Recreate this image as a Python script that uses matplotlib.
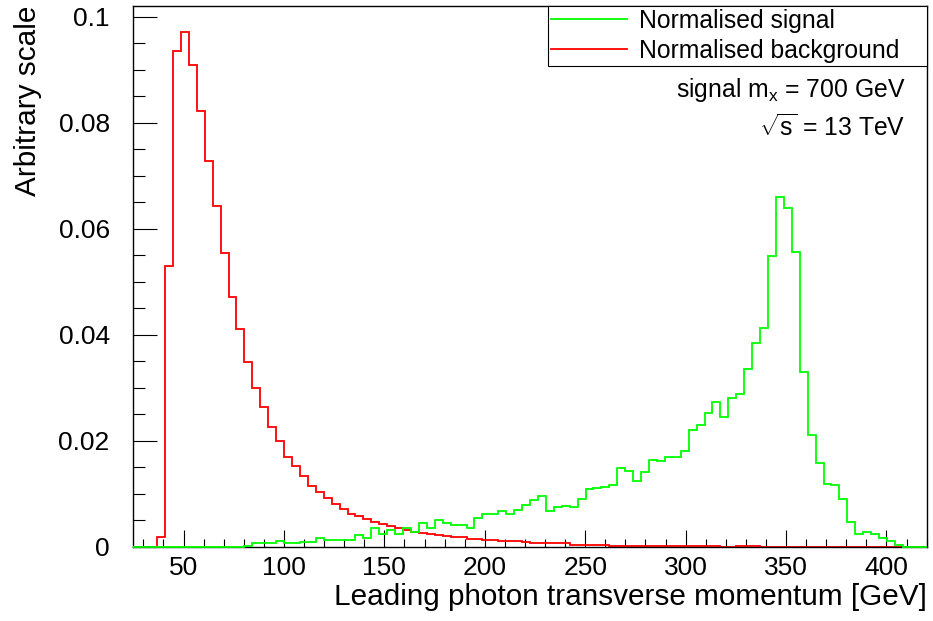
import numpy as np
import matplotlib
matplotlib.use('Agg')
import matplotlib.pyplot as plt
from matplotlib.ticker import MultipleLocator, FuncFormatter
from matplotlib.lines import Line2D

plt.rcParams['font.family'] = ['Liberation Sans', 'DejaVu Sans']
plt.rcParams['mathtext.fontset'] = 'custom'
plt.rcParams['mathtext.rm'] = 'Liberation Sans'
plt.rcParams['mathtext.it'] = 'Liberation Sans:italic'

# Histogram binning: 100 bins from 25 to 420 GeV
x_lo = 25
x_hi = 420
n_bins = 100

# Normalised signal (m_x = 700 GeV), one value per bin
signal = [
    0, 0, 0, 0, 0, 0, 0, 0, 0, 0,
    0, 0, 0, 0, 0.0002, 0.0006, 0.0006, 0.0006, 0.0011, 0.0006,
    0.0006, 0.0008, 0.0008, 0.0016, 0.0013, 0.0013, 0.0013, 0.0013, 0.0022, 0.0016,
    0.0035, 0.0024, 0.0031, 0.0024, 0.0036, 0.0028, 0.0045, 0.0036, 0.0050, 0.0045,
    0.0040, 0.0040, 0.0036, 0.0055, 0.0061, 0.0061, 0.0068, 0.0061, 0.0070, 0.0079,
    0.0089, 0.0095, 0.0067, 0.0074, 0.0077, 0.0074, 0.0090, 0.0108, 0.0110, 0.0113,
    0.0116, 0.0149, 0.0143, 0.0124, 0.0140, 0.0164, 0.0161, 0.0170, 0.0170, 0.0180,
    0.0220, 0.0230, 0.0253, 0.0274, 0.0244, 0.0281, 0.0289, 0.0336, 0.0384, 0.0412,
    0.0549, 0.0660, 0.0640, 0.0557, 0.0329, 0.0210, 0.0157, 0.0119, 0.0116, 0.0090,
    0.0046, 0.0024, 0.0027, 0.0024, 0.0016, 0.0011, 0.0003, 0, 0, 0,
]

# Normalised background, one value per bin
background = [
    0, 0, 0, 0.0018, 0.0529, 0.0935, 0.0972, 0.0909, 0.0823, 0.0728,
    0.0643, 0.0554, 0.0472, 0.0410, 0.0349, 0.0300, 0.0264, 0.0225, 0.0200, 0.0170,
    0.0152, 0.0133, 0.0115, 0.0103, 0.0091, 0.0081, 0.0071, 0.0062, 0.0057, 0.0053,
    0.0046, 0.0042, 0.0039, 0.0035, 0.0031, 0.0028, 0.0026, 0.0024, 0.0022, 0.0020,
    0.0018, 0.0018, 0.0015, 0.0014, 0.0012, 0.0012, 0.0011, 0.0010, 0.0010, 0.0008,
    0.0006, 0.0006, 0.0006, 0.0006, 0.0006, 0.0004, 0.0004, 0.0004, 0.0004, 0.0004,
    0.00015, 0.00015, 0.00015, 0.00015, 0.00015, 0.00015, 0.00015, 0.00015, 0.00015, 0.00015,
    0.00015, 0.00015, 0.00015, 0.00015, 0, 0, 0.0001, 0.0001, 0.0001, 0,
    0, 0, 0, 0, 0, 0, 0, 0, 0, 0,
    0, 0, 0, 0, 0, 0, 0, 0, 0, 0,
]

labels = ['Normalised signal', 'Normalised background']
colors = ['#00ff00', '#ff0000']

edges = np.linspace(x_lo, x_hi, n_bins + 1)

fig = plt.figure(figsize=(9.33, 6.21), dpi=100)
ax = fig.add_axes([0.1429, 0.1197, 0.8503, 0.8707])

ax.stairs(background, edges, color=colors[1], lw=1.3, baseline=None, zorder=2)
ax.stairs(signal, edges, color=colors[0], lw=1.3, baseline=None, zorder=3, clip_on=False)

ax.set_xlim(x_lo, x_hi)
ax.set_ylim(0, 1.05 * max(background))

# ROOT-like axes: inward ticks, bottom and left only
ax.xaxis.set_major_locator(MultipleLocator(50))
ax.xaxis.set_minor_locator(MultipleLocator(10))
ax.yaxis.set_major_locator(MultipleLocator(0.02))
ax.yaxis.set_minor_locator(MultipleLocator(0.005))
ax.yaxis.set_major_formatter(FuncFormatter(lambda v, p: f'{v:g}'))
ax.tick_params(which='both', direction='in', top=False, right=False, width=0.8,
               labelsize=19, colors='black')
ax.tick_params(axis='x', which='major', length=12.2, pad=7)
ax.tick_params(axis='x', which='minor', length=6.1)
ax.tick_params(axis='y', which='major', length=17.3, pad=17)
ax.tick_params(axis='y', which='minor', length=8.6)
for s in ax.spines.values():
    s.set_linewidth(1.0)

ax.set_xlabel('Leading photon transverse momentum [GeV]', loc='right', fontsize=21.4, labelpad=2)
ax.set_ylabel('Arbitrary scale', loc='top', fontsize=21.4, labelpad=12)

handles = [Line2D([], [], color=c, lw=1.3) for c in colors]
leg = ax.legend(handles, labels, loc='upper left', bbox_to_anchor=(0.523, 0.885, 0.477, 0.115),
                mode='expand', fancybox=False, edgecolor='black', framealpha=1,
                fontsize=17.8, handlelength=3.05, handletextpad=0.5, borderpad=0.12,
                labelspacing=0.25, borderaxespad=0)
leg.get_frame().set_linewidth(0.8)

ax.text(0.973, 0.8446, 'signal m$_{\\mathregular{x}}$ = 700 GeV', transform=ax.transAxes,
        ha='right', va='center', fontsize=17.8)
ax.text(0.973, 0.7741, '$\\sqrt{\\mathregular{s}}$ = 13 TeV', transform=ax.transAxes,
        ha='right', va='center', fontsize=17.8)

fig.savefig('out.png', dpi=100)
